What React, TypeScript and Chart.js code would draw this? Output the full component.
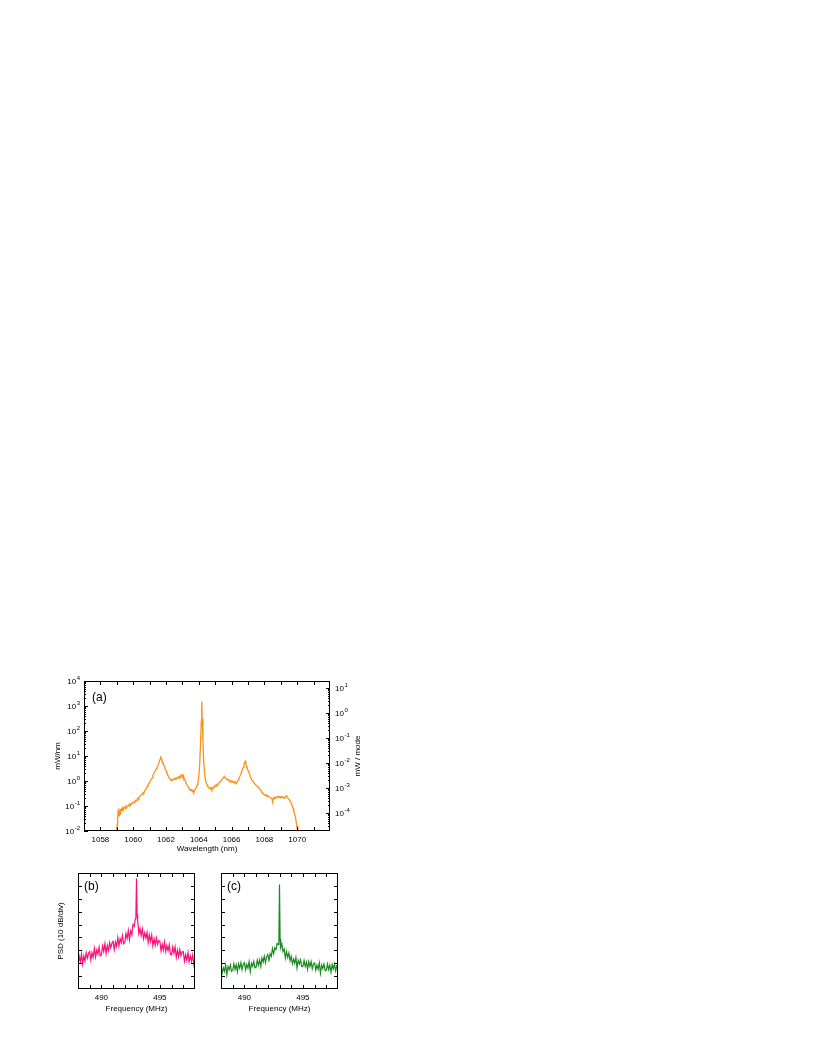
import { useEffect, useRef } from 'react';
import { Chart, registerables } from 'chart.js';

Chart.register(...registerables);

const FONT = "'Liberation Sans', Arial, Helvetica, sans-serif";

// ---------- Panel (a): optical spectrum ----------
const wavelengthNm = [
  1058.95, 1058.98, 1059.02, 1059.05, 1059.08, 1059.1, 1059.13, 1059.17, 1059.2, 1059.24,
  1059.28, 1059.32, 1059.36, 1059.4, 1059.45, 1059.5, 1059.55, 1059.6, 1059.65, 1059.7,
  1059.75, 1059.8, 1059.85, 1059.9, 1059.95, 1060.0, 1060.05, 1060.1, 1060.15, 1060.2,
  1060.25, 1060.3, 1060.35, 1060.4, 1060.45, 1060.5, 1060.55, 1060.6, 1060.65, 1060.7,
  1060.75, 1060.8, 1060.85, 1060.9, 1060.95, 1061.0, 1061.05, 1061.1, 1061.15, 1061.2,
  1061.25, 1061.3, 1061.35, 1061.4, 1061.45, 1061.5, 1061.55, 1061.6, 1061.64, 1061.68,
  1061.71, 1061.75, 1061.8, 1061.85, 1061.9, 1061.95, 1062.0, 1062.05, 1062.1, 1062.15,
  1062.2, 1062.25, 1062.3, 1062.35, 1062.4, 1062.45, 1062.5, 1062.55, 1062.6, 1062.65,
  1062.7, 1062.75, 1062.8, 1062.85, 1062.9, 1062.95, 1063.0, 1063.03, 1063.07, 1063.1,
  1063.15, 1063.2, 1063.25, 1063.3, 1063.35, 1063.4, 1063.45, 1063.5, 1063.55, 1063.6,
  1063.65, 1063.7, 1063.75, 1063.8, 1063.85, 1063.9, 1063.95, 1064.0, 1064.05, 1064.1,
  1064.15, 1064.18, 1064.21, 1064.25, 1064.3, 1064.35, 1064.4, 1064.45, 1064.5, 1064.55,
  1064.6, 1064.65, 1064.7, 1064.75, 1064.8, 1064.85, 1064.9, 1064.95, 1065.0, 1065.05,
  1065.1, 1065.15, 1065.2, 1065.25, 1065.3, 1065.35, 1065.4, 1065.45, 1065.5, 1065.55,
  1065.6, 1065.65, 1065.7, 1065.75, 1065.8, 1065.85, 1065.9, 1065.95, 1066.0, 1066.05,
  1066.1, 1066.15, 1066.2, 1066.25, 1066.3, 1066.35, 1066.4, 1066.45, 1066.5, 1066.55,
  1066.6, 1066.65, 1066.7, 1066.75, 1066.8, 1066.83, 1066.87, 1066.9, 1066.95, 1067.0,
  1067.05, 1067.1, 1067.15, 1067.2, 1067.25, 1067.3, 1067.35, 1067.4, 1067.45, 1067.5,
  1067.55, 1067.6, 1067.65, 1067.7, 1067.75, 1067.8, 1067.85, 1067.9, 1067.95, 1068.0,
  1068.05, 1068.1, 1068.15, 1068.2, 1068.25, 1068.3, 1068.35, 1068.4, 1068.45, 1068.5,
  1068.53, 1068.57, 1068.6, 1068.65, 1068.7, 1068.75, 1068.8, 1068.85, 1068.9, 1068.95,
  1069.0, 1069.05, 1069.1, 1069.15, 1069.2, 1069.25, 1069.3, 1069.35, 1069.4, 1069.45,
  1069.5, 1069.55, 1069.6, 1069.65, 1069.7, 1069.75, 1069.8, 1069.85, 1069.9, 1069.95,
  1070.0, 1070.03, 1070.06, 1070.1,
];
const spectrumMwPerNm = [
  0.006, 0.01, 0.018, 0.035, 0.055, 0.04, 0.06, 0.045, 0.07, 0.06,
  0.075, 0.065, 0.08, 0.07, 0.09, 0.08, 0.095, 0.085, 0.1, 0.11,
  0.1, 0.12, 0.11, 0.13, 0.125, 0.14, 0.15, 0.145, 0.17, 0.16,
  0.19, 0.21, 0.2, 0.24, 0.26, 0.28, 0.3, 0.34, 0.33, 0.4,
  0.45, 0.5, 0.6, 0.7, 0.8, 0.85, 1.0, 1.2, 1.3, 1.7,
  1.9, 2.4, 2.6, 3.1, 3.4, 4.2, 4.8, 6.2, 7.5, 9.8,
  7.8, 6.5, 5.8, 4.6, 3.9, 3.0, 2.6, 2.1, 1.8, 1.5,
  1.3, 1.2, 1.1, 1.15, 1.05, 1.2, 1.25, 1.15, 1.3, 1.25,
  1.4, 1.3, 1.5, 1.4, 1.65, 1.5, 1.75, 1.45, 1.6, 1.25,
  1.1, 0.9, 0.78, 0.65, 0.58, 0.5, 0.46, 0.42, 0.45, 0.38,
  0.42, 0.36, 0.44, 0.48, 0.55, 0.7, 0.95, 1.6, 4, 25,
  250, 1500, 300, 40, 6, 2.2, 1.2, 0.85, 0.7, 0.6,
  0.55, 0.52, 0.48, 0.55, 0.45, 0.5, 0.58, 0.55, 0.68, 0.62,
  0.72, 0.68, 0.8, 0.85, 0.95, 1.0, 1.1, 1.25, 1.35, 1.55,
  1.35, 1.25, 1.15, 1.2, 1.05, 1.1, 0.98, 1.05, 0.92, 0.98,
  0.88, 0.95, 0.85, 0.9, 0.8, 0.95, 1.1, 1.3, 1.5, 1.8,
  2.2, 2.8, 3.4, 4.2, 5.8, 6.2, 4.8, 4.2, 3.3, 2.6,
  2.3, 1.8, 1.5, 1.2, 1.05, 0.95, 0.85, 0.8, 0.72, 0.68,
  0.62, 0.6, 0.55, 0.5, 0.45, 0.4, 0.35, 0.33, 0.3, 0.29,
  0.27, 0.28, 0.25, 0.26, 0.24, 0.23, 0.22, 0.21, 0.2, 0.14,
  0.19, 0.21, 0.2, 0.22, 0.21, 0.23, 0.22, 0.24, 0.22, 0.23,
  0.21, 0.24, 0.22, 0.23, 0.2, 0.22, 0.24, 0.26, 0.22, 0.2,
  0.18, 0.16, 0.14, 0.12, 0.1, 0.08, 0.06, 0.045, 0.035, 0.02,
  0.012, 0.016, 0.009, 0.006,
];
const wavelengthTicks = [1057, 1058, 1059, 1060, 1061, 1062, 1063, 1064, 1065, 1066, 1067, 1068, 1069, 1070, 1071, 1072];
const wavelengthLabels = [1058, 1060, 1062, 1064, 1066, 1068, 1070];
const leftExponents = [-2, -1, 0, 1, 2, 3, 4];
const rightExponents = [-5, -4, -3, -2, -1, 0, 1];
const minorMultipliers = [2, 3, 4, 5, 6, 7, 8, 9];
const LEFT_MIN = 0.01;
const LEFT_MAX = 10000;
const RIGHT_MIN = 1.905e-5;
const RIGHT_MAX = 19.05;

// ---------- Panels (b) and (c): RF beat spectra ----------
const frequencyMHz = [
  488.0, 488.1, 488.2, 488.3, 488.4, 488.5, 488.6, 488.7, 488.8, 488.9,
  489.0, 489.1, 489.2, 489.3, 489.4, 489.5, 489.6, 489.7, 489.8, 489.9,
  490.0, 490.1, 490.2, 490.3, 490.4, 490.5, 490.6, 490.7, 490.8, 490.9,
  491.0, 491.1, 491.2, 491.3, 491.4, 491.5, 491.6, 491.7, 491.8, 491.9,
  492.0, 492.1, 492.2, 492.3, 492.4, 492.5, 492.6, 492.7, 492.8, 492.9,
  492.95, 493.0, 493.05,
  493.1, 493.2, 493.3, 493.4, 493.5, 493.6, 493.7, 493.8, 493.9,
  494.0, 494.1, 494.2, 494.3, 494.4, 494.5, 494.6, 494.7, 494.8, 494.9,
  495.0, 495.1, 495.2, 495.3, 495.4, 495.5, 495.6, 495.7, 495.8, 495.9,
  496.0, 496.1, 496.2, 496.3, 496.4, 496.5, 496.6, 496.7, 496.8, 496.9,
  497.0, 497.1, 497.2, 497.3, 497.4, 497.5, 497.6, 497.7, 497.8, 497.9,
  498.0,
];
const psdB = [
  18.5, 25.4, 21.2, 27.1, 19.4, 25.8, 21.7, 28, 23.9, 27.7,
  29, 22.4, 28.2, 24.6, 31.4, 24.8, 30.2, 27, 32.4, 25.7,
  26.5, 33.4, 29.2, 35.1, 27.4, 33.8, 29.7, 36, 31.9, 35.7,
  37, 30.5, 36.5, 33, 40, 33.5, 39, 36, 41.5, 35,
  36, 43, 39.3, 45.5, 38.2, 45, 42, 50, 48.5, 54.5,
  57, 86, 58,
  53, 43, 47, 41.5, 46.5, 39, 43.5, 39.5, 44,
  36, 42, 37, 42, 33.5, 39, 34, 39.5, 34.5, 37.5,
  37, 29.6, 34.7, 30.3, 36.4, 29, 33.6, 29.7, 34.3, 26.9,
  26.5, 32.6, 27.7, 32.8, 24.4, 30, 25.1, 30.7, 25.8, 28.9,
  29, 21.6, 26.7, 22.3, 28.4, 21, 25.6, 21.7, 26.3, 18.9,
  24,
];
const psdC = [
  17.8, 12.4, 16.5, 13.6, 18.7, 10.8, 17.4, 15, 18.6, 13.7,
  14.5, 19.6, 15.2, 18.9, 13.5, 19.6, 16.2, 20.4, 15, 19.1,
  20.3, 14.9, 19, 16.2, 21.3, 13.4, 20, 17.7, 21.3, 16.4,
  17, 22.5, 18.5, 22.5, 17.5, 24, 21, 25.5, 20.5, 25.1,
  26.8, 22.3, 27.3, 25.3, 31.4, 27.5, 32, 30.5, 35.4, 34.5,
  40, 81, 39,
  32, 35, 29, 31, 24, 29, 24.5, 28, 22,
  25.5, 19.6, 23.2, 19.9, 24.5, 16.2, 22.3, 19.5, 22.6, 17.3,
  17.4, 22.2, 17.6, 20.9, 15.3, 21.1, 17.5, 21.3, 15.7, 19.5,
  20.3, 14.7, 18.6, 15.4, 20.3, 12.2, 18.6, 15.9, 19.3, 14.2,
  14.5, 19.5, 15, 18.5, 13, 19, 15.5, 19.5, 14, 18,
  16.5,
];
const frequencyTicks = [488, 489, 490, 491, 492, 493, 494, 495, 496, 497, 498];
const frequencyLabels = [490, 495];
const psdTicks = [0, 10, 20, 30, 40, 50, 60, 70, 80, 90];

const ORANGE = '#F8931F';
const PINK = '#FA1079';
const GREEN = '#1C8A22';

function drawPower(ctx: CanvasRenderingContext2D, x: number, y: number, exp: string, align: 'left' | 'right') {
  ctx.font = `8px ${FONT}`;
  const bw = ctx.measureText('10').width;
  ctx.font = `6px ${FONT}`;
  const ew = ctx.measureText(exp).width;
  const x0 = align === 'right' ? x - bw - ew - 0.5 : x;
  ctx.textAlign = 'left';
  ctx.textBaseline = 'middle';
  ctx.font = `8px ${FONT}`;
  ctx.fillText('10', x0, y + 1);
  ctx.font = `6px ${FONT}`;
  ctx.fillText(exp, x0 + bw + 0.5, y - 3);
}

function hTick(ctx: CanvasRenderingContext2D, x: number, y0: number, y1: number) {
  const px = Math.round(x) + 0.5;
  ctx.beginPath();
  ctx.moveTo(px, y0);
  ctx.lineTo(px, y1);
  ctx.stroke();
}
function vTick(ctx: CanvasRenderingContext2D, y: number, x0: number, x1: number) {
  const py = Math.round(y) + 0.5;
  ctx.beginPath();
  ctx.moveTo(x0, py);
  ctx.lineTo(x1, py);
  ctx.stroke();
}

function drawFrame(ctx: CanvasRenderingContext2D, a: any) {
  ctx.strokeStyle = '#000';
  ctx.lineWidth = 1;
  ctx.strokeRect(a.left + 0.5, a.top + 0.5, a.right - a.left - 1, a.bottom - a.top - 1);
}

function rotatedText(ctx: CanvasRenderingContext2D, text: string, x: number, y: number, size: number) {
  ctx.save();
  ctx.translate(x, y);
  ctx.rotate(-Math.PI / 2);
  ctx.font = `${size}px ${FONT}`;
  ctx.textAlign = 'center';
  ctx.textBaseline = 'middle';
  ctx.fillText(text, 0, 0);
  ctx.restore();
}

const spectrumPlugin = {
  id: 'spectrumFrame',
  afterDraw(chart: any) {
    const ctx: CanvasRenderingContext2D = chart.ctx;
    const a = chart.chartArea;
    const x = chart.scales.x;
    const y = chart.scales.y;
    const y2 = chart.scales.y2;
    ctx.save();
    ctx.fillStyle = '#000';
    drawFrame(ctx, a);
    wavelengthTicks.forEach((v) => {
      const px = x.getPixelForValue(v);
      if (px < a.left + 1 || px > a.right - 1) return;
      hTick(ctx, px, a.bottom, a.bottom - 4);
      hTick(ctx, px, a.top, a.top + 4);
    });
    ctx.font = `8px ${FONT}`;
    ctx.textAlign = 'center';
    ctx.textBaseline = 'middle';
    wavelengthLabels.forEach((v) => {
      ctx.fillText(String(v), x.getPixelForValue(v), a.bottom + 9);
    });
    leftExponents.forEach((e) => {
      const v = Math.pow(10, e);
      const py = y.getPixelForValue(v);
      vTick(ctx, py, a.left, a.left + 4);
      drawPower(ctx, a.left - 4, py, String(e), 'right');
      minorMultipliers.forEach((m) => {
        const mv = m * v;
        if (mv >= LEFT_MAX) return;
        vTick(ctx, y.getPixelForValue(mv), a.left, a.left + 2);
      });
    });
    rightExponents.forEach((e) => {
      const v = Math.pow(10, e);
      if (v >= RIGHT_MIN && v <= RIGHT_MAX) {
        const py = y2.getPixelForValue(v);
        vTick(ctx, py, a.right - 4, a.right);
        drawPower(ctx, a.right + 5, py, String(e), 'left');
      }
      minorMultipliers.forEach((m) => {
        const mv = m * v;
        if (mv <= RIGHT_MIN || mv >= RIGHT_MAX) return;
        vTick(ctx, y2.getPixelForValue(mv), a.right - 2, a.right);
      });
    });
    ctx.fillStyle = '#000';
    ctx.font = `8px ${FONT}`;
    ctx.textAlign = 'center';
    ctx.textBaseline = 'middle';
    ctx.fillText('Wavelength (nm)', (a.left + a.right) / 2, a.bottom + 18);
    rotatedText(ctx, 'mW/nm', a.left - 26, (a.top + a.bottom) / 2, 8);
    rotatedText(ctx, 'mW / mode', a.right + 28, (a.top + a.bottom) / 2, 8);
    ctx.font = `12px ${FONT}`;
    ctx.textAlign = 'left';
    ctx.fillText('(a)', a.left + 8, a.top + 17);
    ctx.restore();
  },
};

function makeRfPlugin(label: string, showYTitle: boolean) {
  return {
    id: 'rfFrame' + label,
    afterDraw(chart: any) {
      const ctx: CanvasRenderingContext2D = chart.ctx;
      const a = chart.chartArea;
      const x = chart.scales.x;
      const y = chart.scales.y;
      ctx.save();
      ctx.fillStyle = '#000';
      drawFrame(ctx, a);
      frequencyTicks.forEach((v) => {
        const px = x.getPixelForValue(v);
        if (px < a.left + 1 || px > a.right - 1) return;
        hTick(ctx, px, a.bottom, a.bottom - 4);
        hTick(ctx, px, a.top, a.top + 4);
      });
      psdTicks.forEach((v) => {
        const py = y.getPixelForValue(v);
        if (py < a.top + 1 || py > a.bottom - 1) return;
        vTick(ctx, py, a.left, a.left + 4);
        vTick(ctx, py, a.right - 4, a.right);
      });
      ctx.font = `8px ${FONT}`;
      ctx.textAlign = 'center';
      ctx.textBaseline = 'middle';
      frequencyLabels.forEach((v) => {
        ctx.fillText(String(v), x.getPixelForValue(v), a.bottom + 9);
      });
      ctx.fillText('Frequency (MHz)', (a.left + a.right) / 2, a.bottom + 20);
      if (showYTitle) rotatedText(ctx, 'PSD (10 dB/div)', a.left - 17, (a.top + a.bottom) / 2, 8);
      ctx.font = `12px ${FONT}`;
      ctx.textAlign = 'left';
      ctx.fillText(label, a.left + 6, a.top + 14);
      ctx.restore();
    },
  };
}

function baseOptions(padding: any) {
  return {
    responsive: false,
    animation: false as const,
    devicePixelRatio: 1,
    layout: { padding },
    plugins: { legend: { display: false }, tooltip: { enabled: false } },
    elements: { point: { radius: 0 }, line: { tension: 0 } },
  };
}

export default function App() {
  const refA = useRef<HTMLCanvasElement>(null);
  const refB = useRef<HTMLCanvasElement>(null);
  const refC = useRef<HTMLCanvasElement>(null);

  useEffect(() => {
    const charts: Chart[] = [];
    if (refA.current) {
      charts.push(
        new Chart(refA.current, {
          type: 'line',
          data: {
            datasets: [
              {
                data: wavelengthNm.map((w, i) => ({ x: w, y: spectrumMwPerNm[i] })),
                borderColor: ORANGE,
                borderWidth: 1.3,
                pointRadius: 0,
                fill: false,
              },
            ],
          },
          options: {
            ...baseOptions({ left: 64, top: 31, right: 50, bottom: 29 }),
            scales: {
              x: { type: 'linear', min: 1057, max: 1072, display: false },
              y: { type: 'logarithmic', min: LEFT_MIN, max: LEFT_MAX, display: false },
              y2: { type: 'logarithmic', position: 'right', min: RIGHT_MIN, max: RIGHT_MAX, display: false },
            },
          } as any,
          plugins: [spectrumPlugin],
        })
      );
    }
    const rf = (canvas: HTMLCanvasElement, values: number[], color: string, label: string, yTitle: boolean, padding: any) =>
      new Chart(canvas, {
        type: 'line',
        data: {
          datasets: [
            {
              data: frequencyMHz.map((f, i) => ({ x: f, y: values[i] })),
              borderColor: color,
              borderWidth: 1.2,
              pointRadius: 0,
              fill: false,
            },
          ],
        },
        options: {
          ...baseOptions(padding),
          scales: {
            x: { type: 'linear', min: 488, max: 498, display: false },
            y: { type: 'linear', min: 0, max: 90, display: false },
          },
        } as any,
        plugins: [makeRfPlugin(label, yTitle)],
      });
    if (refB.current) charts.push(rf(refB.current, psdB, PINK, '(b)', true, { left: 58, top: 13, right: 15, bottom: 41 }));
    if (refC.current) charts.push(rf(refC.current, psdC, GREEN, '(c)', false, { left: 21, top: 13, right: 42, bottom: 41 }));
    return () => charts.forEach((c) => c.destroy());
  }, []);

  return (
    <div style={{ position: 'absolute', left: 0, top: 0, width: 822, height: 1064 }}>
      <canvas ref={refA} width={360} height={210} style={{ position: 'absolute', left: 20, top: 650, width: 360, height: 210 }} />
      <canvas ref={refB} width={190} height={170} style={{ position: 'absolute', left: 20, top: 860, width: 190, height: 170 }} />
      <canvas ref={refC} width={180} height={170} style={{ position: 'absolute', left: 200, top: 860, width: 180, height: 170 }} />
    </div>
  );
}
